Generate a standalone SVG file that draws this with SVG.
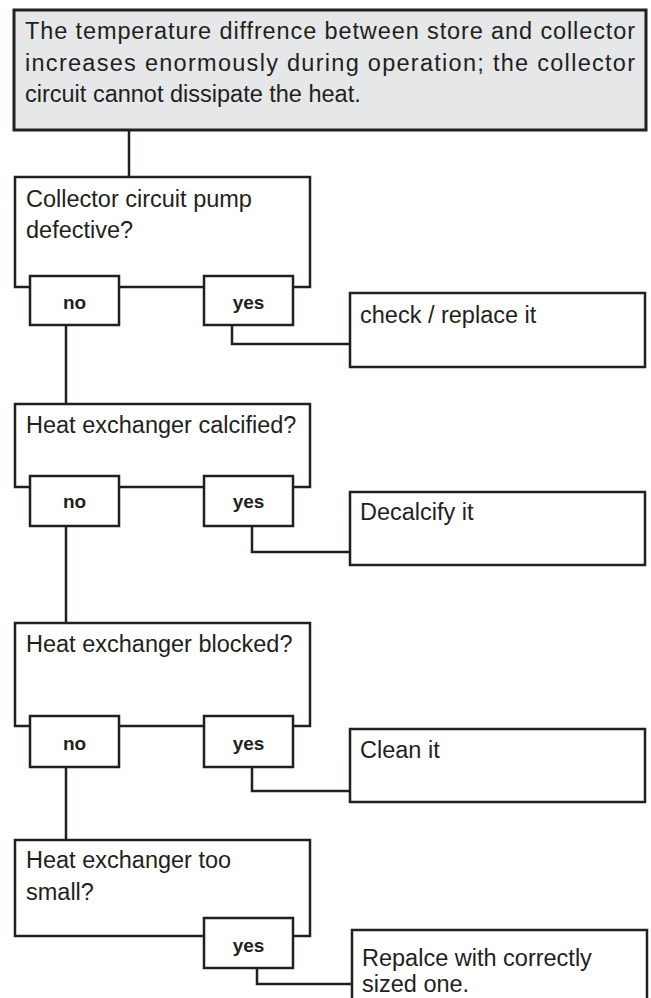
<svg xmlns="http://www.w3.org/2000/svg" width="651" height="998" viewBox="0 0 651 998">
  <style>
    .box { fill: #ffffff; stroke: #231f20; stroke-width: 2.5; }
    .top { fill: #e6e7e8; stroke: #231f20; stroke-width: 3; }
    .lbl { fill: #ffffff; stroke: #231f20; stroke-width: 2.5; }
    .t { font-family: "Liberation Sans", Arial, sans-serif; font-size: 23.5px; fill: #231f20; }
    .b { font-family: "Liberation Sans", Arial, sans-serif; font-size: 19px; font-weight: bold; fill: #231f20; text-anchor: middle; }
    .conn path { fill: none; stroke: #231f20; stroke-width: 2.5; }
  </style>
  <rect width="651" height="998" fill="#ffffff"/>

  <g id="connectors" class="conn">
    <path d="M129 130 V177"/>
    <path d="M66 325 V404"/>
    <path d="M232 325 V344 H350"/>
    <path d="M66 526 V623"/>
    <path d="M252 526 V552 H350"/>
    <path d="M66 767 V840"/>
    <path d="M252 767 V791 H350"/>
    <path d="M257 968 V984 H352"/>
  </g>

  <g id="problem">
    <rect class="top" x="14" y="10" width="632" height="120"/>
    <text class="t" x="25" y="39" textLength="610" lengthAdjust="spacing">The temperature diffrence between store and collector</text>
    <text class="t" x="25" y="71" textLength="610" lengthAdjust="spacing">increases enormously during operation; the collector</text>
    <text class="t" x="25" y="102">circuit cannot dissipate the heat.</text>
  </g>

  <g id="q1">
    <rect class="box" x="15" y="177" width="295" height="110"/>
    <text class="t" x="26" y="207">Collector circuit pump</text>
    <text class="t" x="26" y="238">defective?</text>
  </g>
  <g id="q1-no">
    <rect class="lbl" x="30" y="276" width="89" height="49"/>
    <text class="b" x="74.5" y="309">no</text>
  </g>
  <g id="q1-yes">
    <rect class="lbl" x="204" y="276" width="89" height="49"/>
    <text class="b" x="248.5" y="309">yes</text>
  </g>
  <g id="a1">
    <rect class="box" x="350" y="293" width="295" height="74"/>
    <text class="t" x="360" y="323">check / replace it</text>
  </g>

  <g id="q2">
    <rect class="box" x="15" y="404" width="295" height="83"/>
    <text class="t" x="26" y="433">Heat exchanger calcified?</text>
  </g>
  <g id="q2-no">
    <rect class="lbl" x="30" y="476" width="89" height="50"/>
    <text class="b" x="74.5" y="508">no</text>
  </g>
  <g id="q2-yes">
    <rect class="lbl" x="204" y="476" width="89" height="50"/>
    <text class="b" x="248.5" y="508">yes</text>
  </g>
  <g id="a2">
    <rect class="box" x="350" y="492" width="295" height="73"/>
    <text class="t" x="360" y="520">Decalcify it</text>
  </g>

  <g id="q3">
    <rect class="box" x="15" y="623" width="295" height="103"/>
    <text class="t" x="26" y="652">Heat exchanger blocked?</text>
  </g>
  <g id="q3-no">
    <rect class="lbl" x="30" y="716" width="89" height="51"/>
    <text class="b" x="74.5" y="750">no</text>
  </g>
  <g id="q3-yes">
    <rect class="lbl" x="204" y="716" width="89" height="51"/>
    <text class="b" x="248.5" y="750">yes</text>
  </g>
  <g id="a3">
    <rect class="box" x="350" y="729" width="295" height="73"/>
    <text class="t" x="360" y="758">Clean it</text>
  </g>

  <g id="q4">
    <rect class="box" x="15" y="840" width="295" height="96"/>
    <text class="t" x="26" y="868">Heat exchanger too</text>
    <text class="t" x="26" y="900">small?</text>
  </g>
  <g id="q4-yes">
    <rect class="lbl" x="204" y="918" width="89" height="50"/>
    <text class="b" x="248.5" y="952">yes</text>
  </g>
  <g id="a4">
    <rect class="box" x="352" y="930" width="295" height="90"/>
    <text class="t" x="362" y="966">Repalce with correctly</text>
    <text class="t" x="362" y="992">sized one.</text>
  </g>
</svg>
